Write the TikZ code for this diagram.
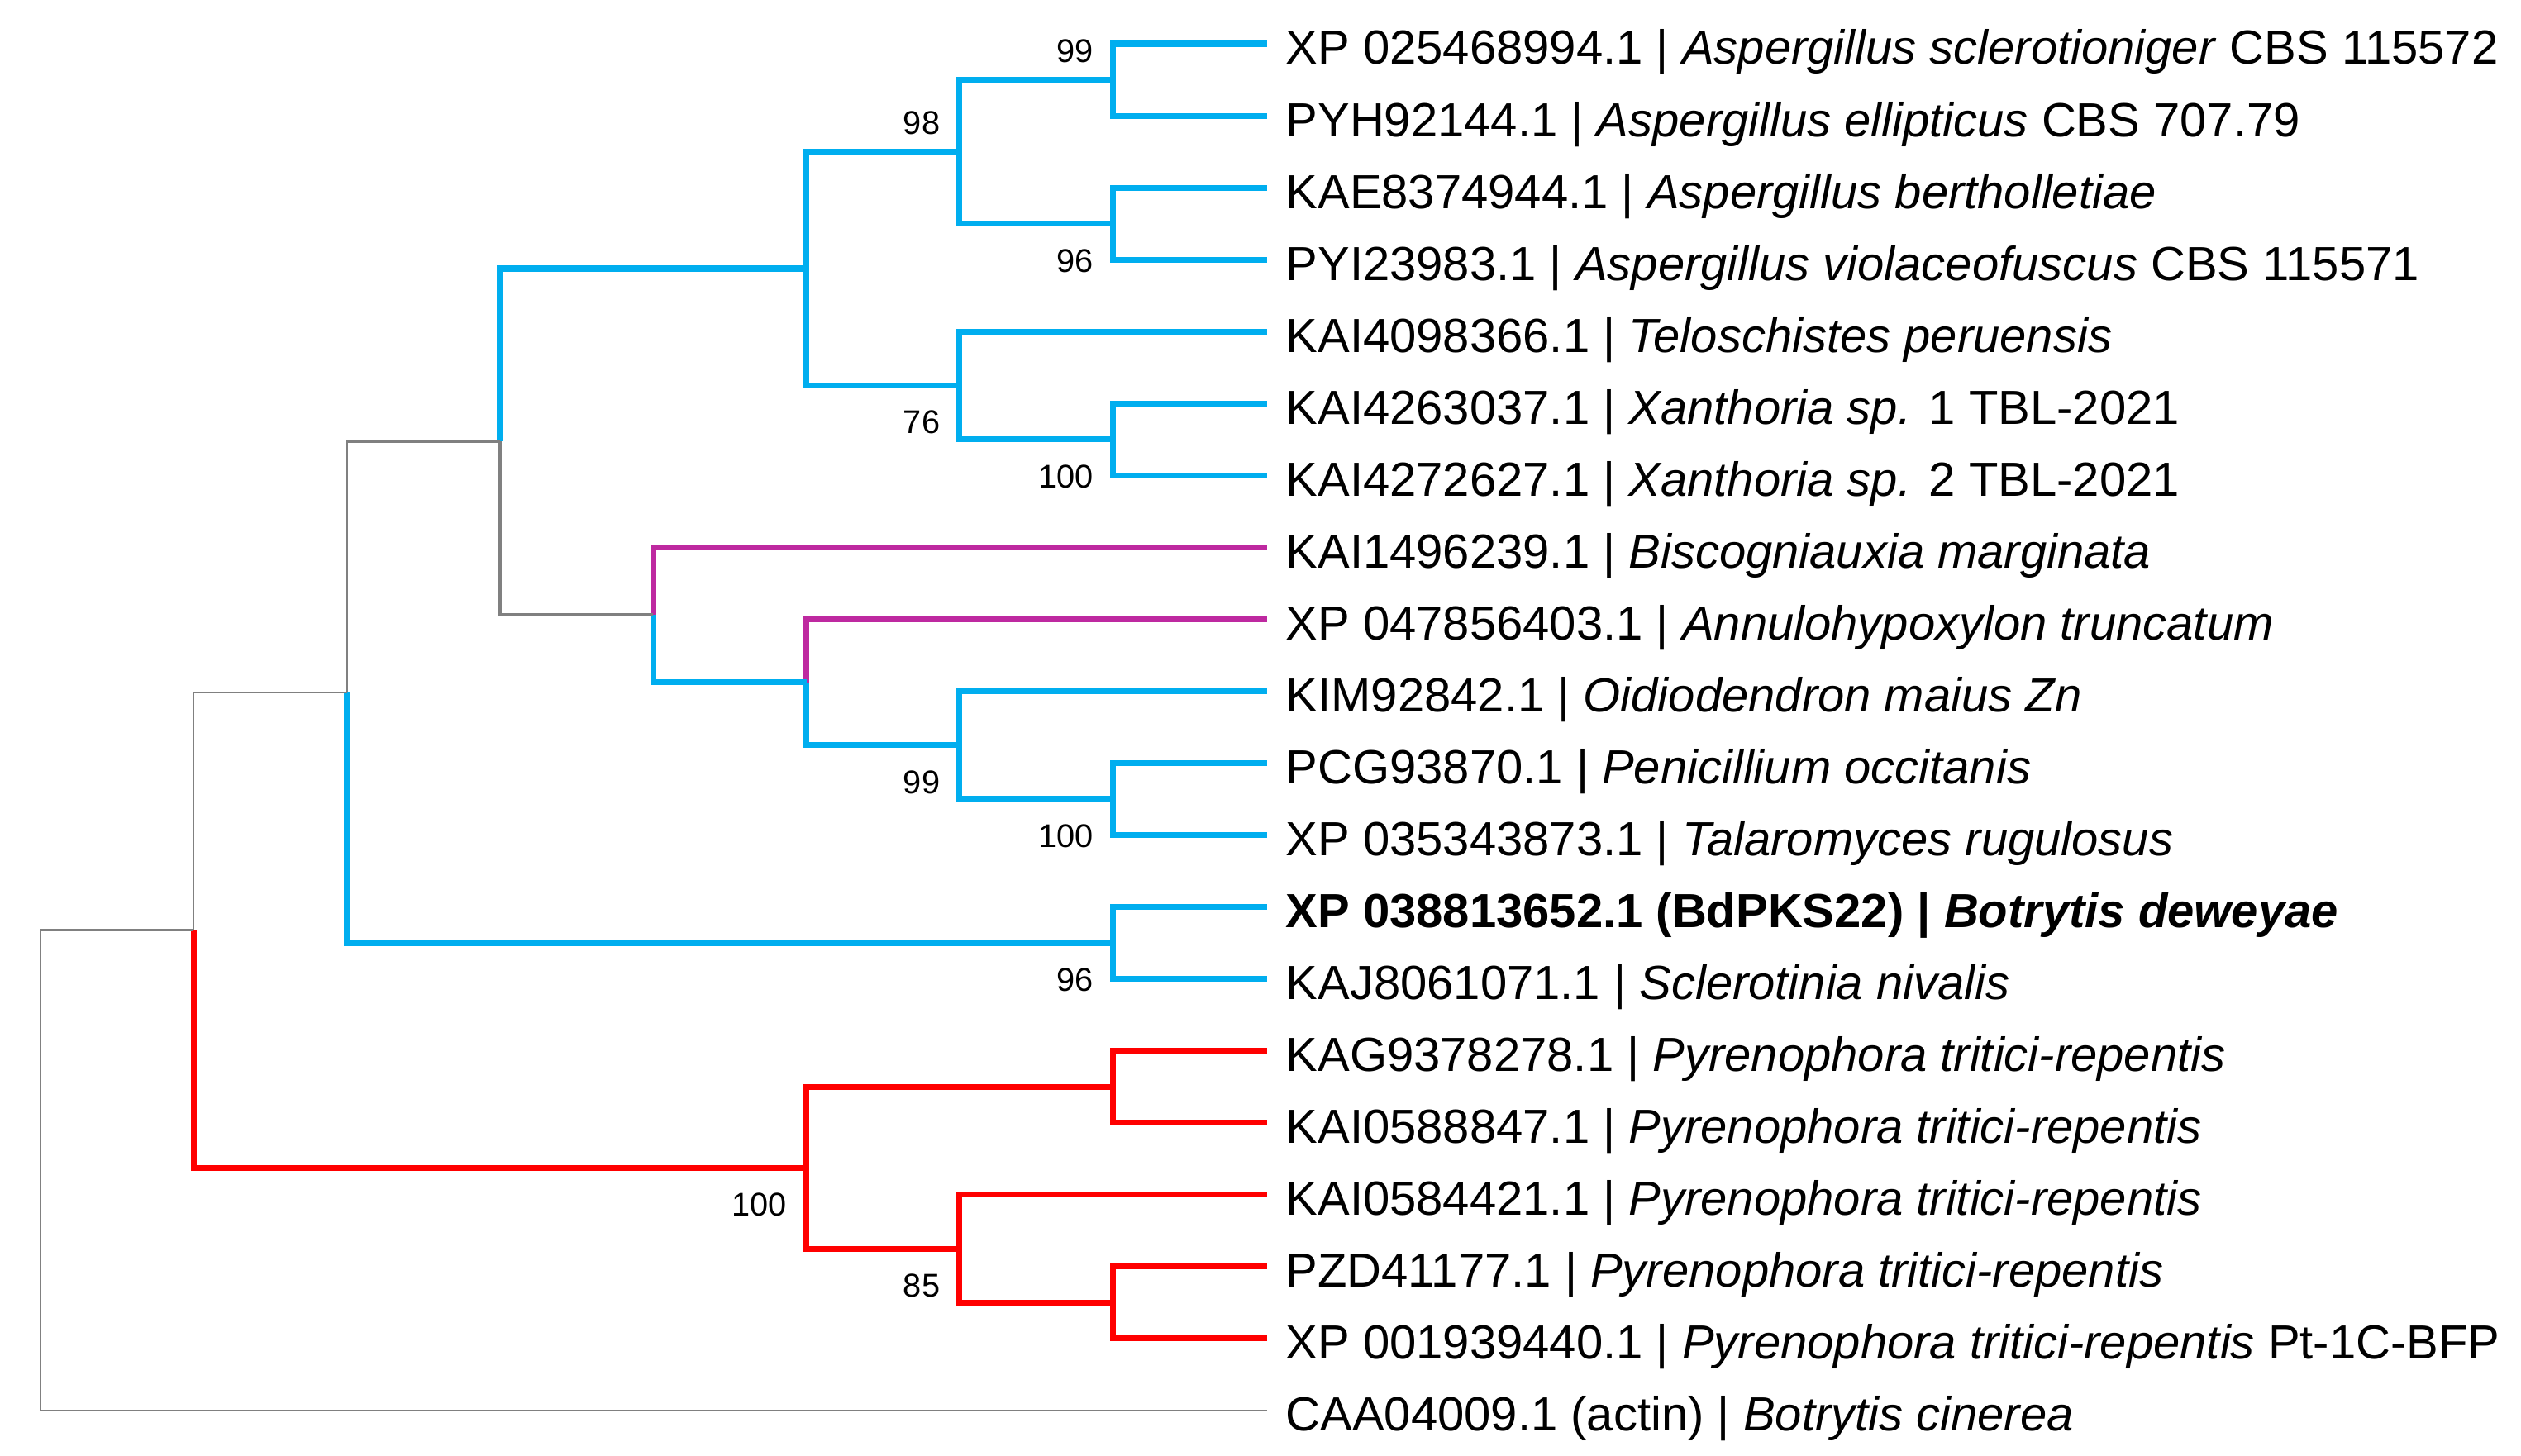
\documentclass[tikz,border=0pt]{standalone}
\usepackage{fontspec}
\setmainfont{Liberation Sans}

\definecolor{astblau}{RGB}{0,174,239}
\definecolor{astlila}{RGB}{190,41,160}
\definecolor{astgrau}{RGB}{128,128,128}

\tikzset{
  blauast/.style={draw=astblau, line width=2pt},
  lilaast/.style={draw=astlila, line width=2pt},
  rotast/.style={draw=red, line width=2pt},
  grauast/.style={draw=astgrau, line width=0.6pt},
  graudick/.style={draw=astgrau, line width=1.4pt},
  taxon/.style={anchor=base west, inner sep=0pt, xshift=0.22cm, yshift=-0.25cm,
    font=\fontsize{16.5}{19}\selectfont},
  bsoben/.style={anchor=south east, inner sep=0pt, xshift=-0.23cm, yshift=0.2cm,
    font=\fontsize{11.3}{13}\selectfont},
  bsunten/.style={anchor=north east, inner sep=0pt, xshift=-0.23cm, yshift=-0.3cm,
    font=\fontsize{11.3}{13}\selectfont}
}

\begin{document}
\begin{tikzpicture}

  \useasboundingbox (0,0) rectangle (30.5,-17.62);

  % Blattenden
  \foreach \i in {0,...,19}
    \coordinate (t\i) at (15.33,{-0.53-0.8705*\i});

  % innere Knoten
  \coordinate (asp1) at (13.461,-0.965);
  \coordinate (asp2) at (13.461,-2.706);
  \coordinate (asp)  at (11.608,-1.836);
  \coordinate (xan)  at (13.461,-5.318);
  \coordinate (telo) at (11.608,-4.665);
  \coordinate (aspt) at (9.755,-3.250);
  \coordinate (tal)  at (13.461,-9.670);
  \coordinate (pen)  at (11.608,-9.017);
  \coordinate (ann)  at (9.755,-8.256);
  \coordinate (bis)  at (7.902,-7.440);
  \coordinate (mid)  at (6.049,-5.345);
  \coordinate (bot)  at (13.461,-11.411);
  \coordinate (pks)  at (4.196,-8.378);
  \coordinate (pyr1) at (13.461,-13.152);
  \coordinate (pyr3) at (13.461,-15.764);
  \coordinate (pyr2) at (11.608,-15.111);
  \coordinate (pyr)  at (9.755,-14.132);
  \coordinate (ing)  at (2.343,-11.255);
  \coordinate (root) at (0.490,-14.162);

  % Aspergillus / Teloschistales
  \draw[blauast] (asp1) |- (t0) (asp1) |- (t1);
  \draw[blauast] (asp2) |- (t2) (asp2) |- (t3);
  \draw[blauast] (asp) |- (asp1) (asp) |- (asp2);
  \draw[blauast] (xan) |- (t5) (xan) |- (t6);
  \draw[blauast] (telo) |- (t4) (telo) |- (xan);
  \draw[blauast] (aspt) |- (asp) (aspt) |- (telo);

  % Xylariales / Eurotiales
  \draw[blauast] (tal) |- (t10) (tal) |- (t11);
  \draw[blauast] (pen) |- (t9) (pen) |- (tal);
  \draw[lilaast] (ann) |- (t8);
  \draw[blauast] (ann) |- (pen);
  \draw[lilaast] (bis) |- (t7);
  \draw[blauast] (bis) |- (ann);
  \draw[blauast] (mid) |- (aspt);
  \draw[graudick] (mid) |- (bis);

  % Botrytis / Sclerotinia
  \draw[blauast] (bot) |- (t12) (bot) |- (t13);
  \draw[grauast] (pks) |- (mid);
  \draw[blauast] (pks) |- (bot);

  % Pyrenophora
  \draw[rotast] (pyr1) |- (t14) (pyr1) |- (t15);
  \draw[rotast] (pyr3) |- (t17) (pyr3) |- (t18);
  \draw[rotast] (pyr2) |- (t16) (pyr2) |- (pyr3);
  \draw[rotast] (pyr) |- (pyr1) (pyr) |- (pyr2);

  % Wurzel und Aussengruppe
  \draw[grauast] (ing) |- (pks);
  \draw[rotast] (ing) |- (pyr);
  \draw[grauast] (root) |- (ing) (root) |- (t19);

  % Bootstrapwerte
  \node[bsoben]  (b1)  at (asp1) {99};
  \node[bsoben]  (b2)  at (asp)  {98};
  \node[bsunten] (b3)  at (asp2) {96};
  \node[bsunten] (b4)  at (telo) {76};
  \node[bsunten] (b5)  at (xan)  {100};
  \node[bsunten] (b6)  at (pen)  {99};
  \node[bsunten] (b7)  at (tal)  {100};
  \node[bsunten] (b8)  at (bot)  {96};
  \node[bsunten] (b9)  at (pyr)  {100};
  \node[bsunten] (b10) at (pyr2) {85};

  % Taxa
  \node[taxon] (l0)  at (t0)  {XP 025468994.1 | \textit{Aspergillus sclerotioniger} CBS 115572};
  \node[taxon] (l1)  at (t1)  {PYH92144.1 | \textit{Aspergillus ellipticus} CBS 707.79};
  \node[taxon] (l2)  at (t2)  {KAE8374944.1 | \textit{Aspergillus bertholletiae}};
  \node[taxon] (l3)  at (t3)  {PYI23983.1 | \textit{Aspergillus violaceofuscus} CBS 115571};
  \node[taxon] (l4)  at (t4)  {KAI4098366.1 | \textit{Teloschistes peruensis}};
  \node[taxon] (l5)  at (t5)  {KAI4263037.1 | \textit{Xanthoria sp.} 1 TBL-2021};
  \node[taxon] (l6)  at (t6)  {KAI4272627.1 | \textit{Xanthoria sp.} 2 TBL-2021};
  \node[taxon] (l7)  at (t7)  {KAI1496239.1 | \textit{Biscogniauxia marginata}};
  \node[taxon] (l8)  at (t8)  {XP 047856403.1 | \textit{Annulohypoxylon truncatum}};
  \node[taxon] (l9)  at (t9)  {KIM92842.1 | \textit{Oidiodendron maius Zn}};
  \node[taxon] (l10) at (t10) {PCG93870.1 | \textit{Penicillium occitanis}};
  \node[taxon] (l11) at (t11) {XP 035343873.1 | \textit{Talaromyces rugulosus}};
  \node[taxon] (l12) at (t12) {\textbf{XP 038813652.1 (BdPKS22) | \textit{Botrytis deweyae}}};
  \node[taxon] (l13) at (t13) {KAJ8061071.1 | \textit{Sclerotinia nivalis}};
  \node[taxon] (l14) at (t14) {KAG9378278.1 | \textit{Pyrenophora tritici-repentis}};
  \node[taxon] (l15) at (t15) {KAI0588847.1 | \textit{Pyrenophora tritici-repentis}};
  \node[taxon] (l16) at (t16) {KAI0584421.1 | \textit{Pyrenophora tritici-repentis}};
  \node[taxon] (l17) at (t17) {PZD41177.1 | \textit{Pyrenophora tritici-repentis}};
  \node[taxon] (l18) at (t18) {XP 001939440.1 | \textit{Pyrenophora tritici-repentis} Pt-1C-BFP};
  \node[taxon] (l19) at (t19) {CAA04009.1 (actin) | \textit{Botrytis cinerea}};

\end{tikzpicture}
\end{document}
